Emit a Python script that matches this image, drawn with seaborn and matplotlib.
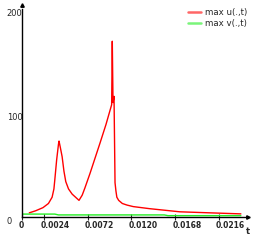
import matplotlib
matplotlib.use("Agg")
import matplotlib.pyplot as plt
import matplotlib.transforms as mtransforms
import seaborn as sns
import numpy as np
import pandas as pd

# values
t_u = [0.0008, 0.0015, 0.0023, 0.0029, 0.0033, 0.0035, 0.0036, 0.0038,
       0.0040, 0.00406, 0.0042, 0.0044, 0.0046, 0.0048, 0.0051, 0.0055,
       0.0060, 0.00625, 0.0066, 0.0069, 0.00746, 0.00855, 0.00921, 0.00983,
       0.0099, 0.00998, 0.01009, 0.0102, 0.0103, 0.0104, 0.0106, 0.011,
       0.0115, 0.0122, 0.0140, 0.0173, 0.0206, 0.0240]
max_u = [4, 6, 9, 13, 19, 27, 36, 55, 70, 73, 67, 58, 44, 34, 27, 22,
         18, 16, 21, 28, 42, 71, 89, 108, 169, 110, 116, 33, 25, 19, 16, 13,
         11.5, 10, 8, 5, 4, 3]
t_v = [0.0001, 0.0036, 0.0040, 0.0156, 0.0160, 0.0240]
max_v = [2.8, 2.8, 2.0, 2.0, 1.3, 1.3]

x_ticks = [0, 0.0024, 0.0072, 0.0120, 0.0168, 0.0216]
x_labels = ["0", "0.0024", "0.0072", "0.0120", "0.0168", "0.0216"]
y_ticks = [0, 100, 200]

df_u = pd.DataFrame({"t": t_u, "val": max_u})
df_v = pd.DataFrame({"t": t_v, "val": max_v})

sns.set_style("white")
plt.rcParams["font.family"] = ["DejaVu Sans"]

fig = plt.figure(figsize=(2.57, 2.46), dpi=100)
ax = fig.add_axes([22 / 257, 29 / 246, 226 / 257, 208 / 246])

sns.lineplot(data=df_u, x="t", y="val", color="red", lw=1.0, ax=ax, label="max u(.,t)")
sns.lineplot(data=df_v, x="t", y="val", color="#22ee22", lw=1.0, ax=ax, label="max v(.,t)")

ax.set_xlim(0, 226 / 9120)
ax.set_ylim(0, 200)
for s in ["top", "right"]:
    ax.spines[s].set_visible(False)
for s in ["left", "bottom"]:
    ax.spines[s].set_color("black")
    ax.spines[s].set_linewidth(1.0)

ax.set_xticks(x_ticks)
ax.set_xticklabels(x_labels, fontsize=5.5, fontweight="bold")
ax.tick_params(axis="x", direction="inout", length=4, width=0.8, pad=1, bottom=True)
shift = mtransforms.ScaledTranslation(-3 / 100, 0, fig.dpi_scale_trans)
for lab in ax.get_xticklabels():
    lab.set_ha("left")
    lab.set_transform(lab.get_transform() + shift)

ax.set_yticks(y_ticks)
ax.set_yticklabels([str(v) for v in y_ticks], fontsize=6)
ax.tick_params(axis="y", length=0, pad=11)
for lab in ax.get_yticklabels():
    lab.set_ha("left")
    lab.set_va("top")

ax.set_xlabel("t", fontsize=6, fontweight="bold")
ax.xaxis.set_label_coords(1.0, -0.05)
ax.set_ylabel("")

# axis arrows
ax.plot(1, 0, ">k", transform=ax.transAxes, clip_on=False, markersize=2.5)
ax.plot(0, 1.02, "^k", transform=ax.transAxes, clip_on=False, markersize=2.5)

leg = ax.legend(loc="upper right", bbox_to_anchor=(1.03, 1.04), frameon=False,
                fontsize=6.2, handlelength=1.6, handletextpad=0.4, labelspacing=0.15)
for line in leg.get_lines():
    line.set_alpha(0.6)
    line.set_linewidth(1.8)

fig.savefig("out.png", dpi=100)
